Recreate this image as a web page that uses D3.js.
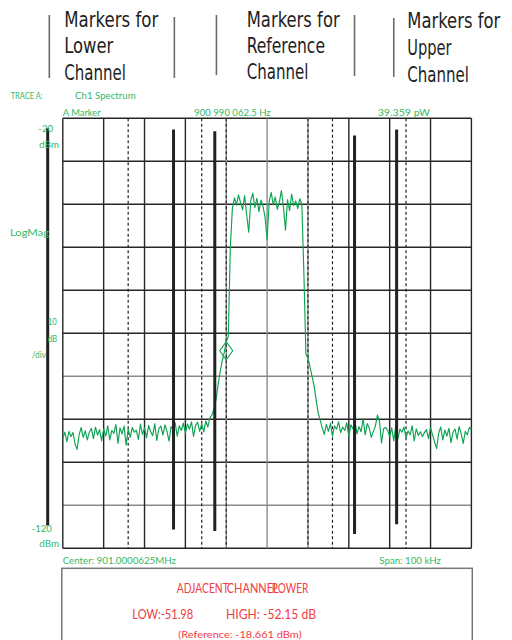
<!DOCTYPE html>
<html>
<head>
<meta charset="utf-8">
<script src="https://cdn.jsdelivr.net/npm/d3@7"></script>
<style>
  html, body { margin: 0; padding: 0; background: #fff; }
  svg { display: block; }
</style>
</head>
<body>
<svg id="chart" width="512" height="640"></svg>
<script>
// ---------------- DATA ----------------
// Trace A (Ch1 Spectrum), 201 points across 0..100 kHz offset (0.5 kHz step), dBm
const floorLow = [
  -94.5,-93.0,-95.2,-92.8,-94.0,-93.1,-95.8,-97.0,-93.6,-91.9,
  -94.2,-92.7,-94.8,-93.0,-92.1,-94.5,-91.8,-93.7,-92.4,-95.0,
  -92.2,-93.9,-91.5,-94.8,-92.6,-93.3,-91.2,-95.6,-92.0,-93.4,
  -91.6,-96.0,-92.3,-94.2,-91.9,-93.0,-92.5,-94.7,-91.1,-93.5,
  -92.0,-94.3,-91.4,-92.9,-93.8,-91.0,-94.9,-92.2,-91.6,-93.7,
  -91.3,-92.8,-95.1,-91.7,-92.4,-90.8,-93.9,-91.5,-92.6,-90.9,
  -93.2,-91.1,-92.3,-90.6,-94.0,-91.4,-90.7,-92.8,-91.0,-92.9,
  -90.4,-91.8,-89.6
];
const riseEdge = [-89.0,-87.5,-85.5,-82.0,-79.0,-76.5,-74.5,-72.0,-70.8,-50.0,-41.0];
const mainChannel = [
  -38.5,-40.2,-37.8,-39.6,-41.3,-38.0,-42.5,-46.5,-39.1,-37.4,
  -40.8,-38.6,-41.7,-39.0,-40.5,-43.0,-48.2,-39.4,-37.2,-40.1,
  -38.3,-41.2,-39.5,-36.8,-40.6,-46.0,-38.9,-41.5,-37.6,-40.3,
  -39.2,-41.0,-38.7,-40.0
];
const fallEdge = [-56.0,-74.8,-75.8,-77.8,-80.0,-82.2,-85.5,-88.5,-90.2,-92.0];
const floorHigh = [
  -93.5,-91.2,-92.8,-90.9,-93.9,-91.5,-92.3,-90.6,-93.1,-91.8,
  -92.6,-90.8,-94.0,-91.3,-92.2,-90.5,-93.4,-91.7,-92.9,-89.8,
  -93.6,-91.0,-92.0,-94.2,-92.8,-91.6,-89.0,-90.4,-95.5,-92.2,
  -91.9,-92.5,-94.1,-92.0,-95.0,-91.4,-94.6,-92.3,-93.0,-91.8,
  -94.4,-92.7,-93.6,-91.5,-95.0,-92.2,-93.8,-92.9,-94.0,-93.1,
  -92.4,-94.5,-91.9,-93.7,-95.3,-96.8,-93.2,-91.8,-94.8,-92.5,
  -93.9,-92.1,-95.4,-93.0,-92.3,-94.6,-91.7,-93.4,-95.6,-92.8,
  -93.6,-91.9,-92.4
];
const traceStepKHz = 0.5;

// Axis
const freqGridKHz = [0,10,20,30,40,50,60,70,80,90,100];
const levelGridDbm = [-20,-30,-40,-50,-60,-70,-80,-90,-100,-110,-120];
const freqDomainKHz = [0, 100];
const levelDomainDbm = [-120, -20];

// Channel integration limits (kHz offset from left edge)
const channelNames = ["Lower", "Reference", "Upper"];
const channelLimitsKHz = [[16, 34], [40, 60], [66, 84]];

// Annotation marker bars (kHz offset, top/bottom dBm)
const barFreqKHz = [-3.7, 27.1, 37.2, 71.4, 81.7];
const barTopDbm = [-22.3, -22.6, -23.0, -24.0, -22.6];
const barBottomDbm = [-114.7, -115.6, -116.0, -116.7, -114.4];
const headerLineFreqKHz = [-3.3, 27.3, 37.6, 71.4, 81.0];

// Marker
const markerFreqKHz = 40.0;      // 900 990 062.5 Hz
const markerLevelDbm = -74.05;   // 39.359 pW

// Texts
const headerLines = [
  ["Markers for", "Lower", "Channel"],
  ["Markers for", "Reference", "Channel"],
  ["Markers for", "Upper", "Channel"]
];
const traceLabel = "TRACE A:";
const traceName = "Ch1 Spectrum";
const markerLabel = "A Marker";
const markerFreqText = "900 990 062.5  Hz";
const markerLevelText = "39.359   pW";
const centerText = "Center:  901.0000625MHz";
const spanText = "Span:  100 kHz";
const acpTitle = ["ADJACENT", "CHANNEL", "POWER"];
const acpLow = "LOW:-51.98";
const acpHigh = "HIGH: -52.15   dB";
const acpRef = "(Reference:      -18.661  dBm)";

// ---------------- DRAW ----------------
const traceValues = [].concat(floorLow, riseEdge, mainChannel, fallEdge, floorHigh);
const svg = d3.select("#chart");
const GREEN = "#35b868";
const RED = "#f23a44";
const TRACE = "#0ca352";

const x = d3.scaleLinear().domain(freqDomainKHz).range([62.8, 471.4]);
const y = d3.scaleLinear().domain(levelDomainDbm).range([548.3, 118.3]);

// Grid: horizontal
svg.append("g").selectAll("line").data(levelGridDbm).join("line")
  .attr("x1", x(0)).attr("x2", x(100))
  .attr("y1", d => y(d)).attr("y2", d => y(d))
  .attr("stroke", d => (d === -80 || d === -110) ? "#8a8a8a" : "#262626")
  .attr("stroke-width", 1.4);

// Grid: vertical
const channelEdges = channelLimitsKHz.flat();
svg.append("g").selectAll("line").data(freqGridKHz).join("line")
  .attr("x1", d => x(d)).attr("x2", d => x(d))
  .attr("y1", y(-20)).attr("y2", y(-120))
  .attr("stroke", d => (d === 50 || channelEdges.includes(d)) ? "#8a8a8a" : "#262626")
  .attr("stroke-width", 1.4);

// Channel limit dashed lines
svg.append("g").selectAll("line").data(channelEdges).join("line")
  .attr("x1", d => x(d)).attr("x2", d => x(d))
  .attr("y1", y(-20)).attr("y2", y(-120))
  .attr("stroke", "#222")
  .attr("stroke-width", 1.2)
  .attr("stroke-dasharray", "3,2.5");

// Trace
const line = d3.line()
  .x((d, i) => x(i * traceStepKHz))
  .y(d => y(d));
svg.append("path")
  .datum(traceValues)
  .attr("d", line)
  .attr("fill", "none")
  .attr("stroke", TRACE)
  .attr("stroke-width", 1.15)
  .attr("stroke-linejoin", "round");

// Marker diamond
const mx = x(markerFreqKHz), my = y(markerLevelDbm);
svg.append("path")
  .attr("d", `M${mx},${my - 9} L${mx + 6.5},${my} L${mx},${my + 9} L${mx - 6.5},${my} Z`)
  .attr("fill", "none")
  .attr("stroke", TRACE)
  .attr("stroke-width", 1.1);

// Thick marker bars
svg.append("g").selectAll("line").data(barFreqKHz).join("line")
  .attr("x1", d => x(d)).attr("x2", d => x(d))
  .attr("y1", (d, i) => y(barTopDbm[i]))
  .attr("y2", (d, i) => y(barBottomDbm[i]))
  .attr("stroke", "#222")
  .attr("stroke-width", 3);

// Header thin lines
const headerLineSpans = [[15, 78], [17, 78], [15, 75], [15, 76], [18, 77]];
svg.append("g").selectAll("line").data(headerLineFreqKHz).join("line")
  .attr("x1", d => x(d)).attr("x2", d => x(d))
  .attr("y1", (d, i) => headerLineSpans[i][0])
  .attr("y2", (d, i) => headerLineSpans[i][1])
  .attr("stroke", "#6a6a6a")
  .attr("stroke-width", 1.6);

// Header text
const hdrX = [64.3, 246.7, 407.3];
const hdrBase = [[26.7, 53.3, 80], [26.7, 53.3, 79.3], [27.7, 54.5, 81.7]];
const hdrWidths = [[94, 49, 61.7], [93, 78.3, 61.7], [93, 44.3, 61.7]];
const hdrFont = "'Liberation Sans Narrow','DejaVu Sans Condensed','Roboto',sans-serif";
headerLines.forEach((lines, c) => {
  lines.forEach((t, r) => {
    svg.append("text")
      .attr("x", hdrX[c]).attr("y", hdrBase[c][r])
      .attr("font-family", hdrFont)
      .attr("font-size", 22)
      .attr("fill", "#1e1e1e")
      .attr("textLength", hdrWidths[c][r])
      .attr("lengthAdjust", "spacingAndGlyphs")
      .text(t);
  });
});

// Green small texts
const gFont = "'Lato','DejaVu Sans',sans-serif";
function gtext(t, xp, yp, w, size, anchor) {
  const el = svg.append("text")
    .attr("x", xp).attr("y", yp)
    .attr("font-family", gFont)
    .attr("font-size", size || 10)
    .attr("fill", GREEN)
    .text(t);
  if (w) el.attr("textLength", w).attr("lengthAdjust", "spacingAndGlyphs");
  if (anchor) el.attr("text-anchor", anchor);
  return el;
}
gtext(traceLabel, 10.7, 99.3, 32, 9.5);
gtext(traceName, 75, 99.3, 60.7, 9.5);
gtext(markerLabel, 62.7, 115.5, 38, 9.5);
gtext(markerFreqText, 194.3, 115.5, 76.4, 9.5);
gtext(markerLevelText, 377.7, 115.5, 52.3, 9.5);
gtext("-20", 38.3, 131.7, 15, 10);
gtext("dBm", 39, 147.7, 20, 10);
gtext("LogMag", 10, 235.5, 39, 10);
gtext("10", 47.7, 325, 9, 10);
gtext("dB", 47.7, 341.7, 9.6, 10);
gtext("/div", 31.7, 358.3, 14.3, 10);
gtext("-120", 31.7, 531.7, 20, 10);
gtext("dBm", 39.3, 547.3, 19.7, 10);
gtext(centerText, 62.7, 564.3, 113.3, 9.5);
gtext(spanText, 379.3, 564.3, 61.7, 9.5);

// Results box
svg.append("rect")
  .attr("x", 61.8).attr("y", 568.3)
  .attr("width", 410.5).attr("height", 90)
  .attr("fill", "none")
  .attr("stroke", "#777")
  .attr("stroke-width", 1.5);

function rtext(t, xp, yp, w, size) {
  return svg.append("text")
    .attr("x", xp).attr("y", yp)
    .attr("font-family", gFont)
    .attr("font-size", size)
    .attr("fill", RED)
    .attr("textLength", w)
    .attr("lengthAdjust", "spacingAndGlyphs")
    .text(t);
}
rtext(acpTitle[0], 176.7, 593.3, 52, 12.5);
rtext(acpTitle[1], 226.7, 593.3, 52, 12.5);
rtext(acpTitle[2], 271.7, 593.3, 36.6, 12.5);
rtext(acpLow, 132.3, 619, 61, 12.5);
rtext(acpHigh, 226, 619, 90, 12.5);
rtext(acpRef, 178.3, 638.3, 123.4, 10);
</script>
</body>
</html>
